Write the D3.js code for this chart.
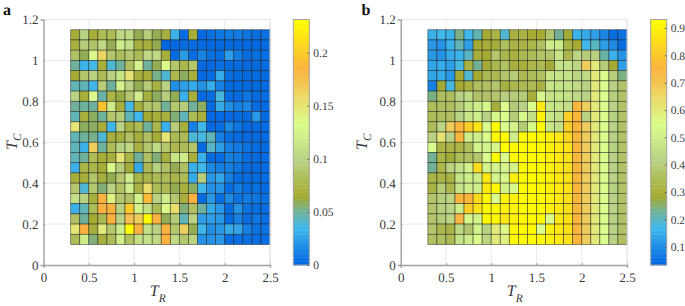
<!DOCTYPE html>
<html><head><meta charset="utf-8">
<script src="https://cdn.jsdelivr.net/npm/d3@7"></script>
<style>html,body{margin:0;padding:0;background:#fff}svg{display:block}text{font-family:"Liberation Serif",serif;text-rendering:geometricPrecision}</style>
</head><body><svg id="c" width="685" height="306"></svg>
<script>
const tR=[0.3,0.4,0.5,0.6,0.7,0.8,0.9,1.0,1.1,1.2,1.3,1.4,1.5,1.6,1.7,1.8,1.9,2.0,2.1,2.2,2.3,2.4];
const tC=[1.10,1.05,1.00,0.95,0.90,0.85,0.80,0.75,0.70,0.65,0.60,0.55,0.50,0.45,0.40,0.35,0.30,0.25,0.20,0.15,0.10];
const xTicks=[0,0.5,1,1.5,2,2.5];
const yTicks=[0,0.2,0.4,0.6,0.8,1,1.2];
const barTicksA=[0,0.05,0.1,0.15,0.2];
const barTicksB=[0.1,0.2,0.3,0.4,0.5,0.6,0.7,0.8,0.9];
const rangeA=[0,0.231];
const rangeB=[0.033,0.931];
const colorStops=[0,0.155,0.217,0.28,0.43,0.575,0.8,1];
const colorValues=["#0064e1","#41b9eb","#6fb29a","#a5aa30","#b9d283","#dcfd8c","#fbb23e","#ffff00"];
const valuesA=[
[.068,.10,.068,.08,.08,.105,.105,.06,.095,.06,.07,.033,.003,.068,.002,.005,.008,.01,.01,.008,.005,.005],
[.07,.095,.088,.105,.06,.12,.11,.07,.07,.06,.001,.002,.004,.004,.003,.003,.003,.003,.003,.003,.003,.003],
[.085,.06,.13,.16,.088,.082,.09,.08,.105,.105,.07,.003,.023,.004,.013,.005,.004,.024,.01,.004,.005,.004],
[.05,.033,.037,.07,.04,.05,.085,.125,.05,.06,.135,.09,.075,.09,.002,.002,.005,.003,.003,.003,.003,.003],
[.065,.09,.10,.08,.098,.115,.15,.07,.068,.052,.04,.078,.058,.07,.003,.003,.03,.005,.003,.003,.003,.003],
[.045,.045,.035,.095,.05,.125,.10,.06,.095,.072,.10,.018,.025,.03,.02,.03,.012,.003,.003,.003,.003,.003],
[.10,.07,.13,.048,.075,.062,.09,.12,.07,.058,.095,.06,.032,.07,.002,.004,.038,.003,.003,.008,.003,.004],
[.05,.05,.05,.195,.12,.07,.037,.07,.09,.088,.05,.09,.095,.05,.058,.003,.03,.018,.012,.015,.003,.003],
[.045,.07,.058,.05,.09,.095,.045,.035,.065,.07,.07,.055,.045,.08,.07,.002,.002,.002,.003,.003,.022,.003],
[.15,.058,.058,.07,.035,.10,.072,.08,.05,.078,.032,.095,.07,.012,.035,.002,.004,.015,.007,.003,.003,.003],
[.045,.05,.052,.04,.07,.07,.085,.07,.085,.068,.15,.08,.08,.04,.037,.045,.012,.004,.003,.003,.003,.003],
[.045,.033,.165,.05,.08,.10,.105,.072,.09,.105,.09,.078,.08,.088,.003,.042,.025,.012,.01,.006,.004,.003],
[.045,.05,.08,.068,.07,.15,.075,.05,.085,.055,.07,.115,.12,.07,.032,.003,.003,.012,.01,.004,.003,.003],
[.032,.075,.075,.068,.13,.095,.068,.03,.078,.10,.085,.06,.085,.032,.035,.016,.012,.012,.007,.003,.003,.003],
[.068,.07,.088,.07,.06,.09,.12,.075,.075,.08,.08,.075,.08,.03,.095,.022,.028,.012,.004,.004,.003,.003],
[.09,.04,.09,.055,.10,.085,.12,.072,.155,.08,.078,.06,.07,.058,.035,.02,.02,.004,.01,.004,.005,.003],
[.11,.10,.07,.185,.14,.09,.085,.125,.19,.10,.12,.09,.07,.185,.003,.022,.004,.016,.006,.01,.008,.005],
[.032,.045,.08,.185,.185,.10,.20,.125,.11,.08,.135,.155,.055,.085,.05,.03,.022,.003,.02,.006,.004,.004],
[.085,.05,.065,.078,.185,.10,.175,.165,.228,.185,.06,.095,.045,.10,.025,.025,.022,.003,.012,.004,.008,.004],
[.15,.185,.07,.145,.09,.12,.23,.185,.11,.10,.185,.09,.165,.06,.035,.018,.022,.03,.028,.012,.006,.006],
[.08,.12,.055,.07,.08,.12,.085,.11,.11,.105,.185,.105,.09,.10,.02,.02,.022,.003,.004,.005,.004,.004]
];
const valuesB=[
[.16,.17,.16,.24,.17,.21,.29,.32,.19,.31,.32,.29,.29,.38,.23,.28,.16,.15,.13,.09,.05,.06],
[.12,.11,.16,.21,.13,.29,.30,.30,.36,.32,.32,.33,.36,.50,.50,.32,.29,.17,.20,.13,.10,.05],
[.12,.11,.15,.16,.20,.30,.29,.38,.33,.31,.34,.35,.37,.38,.48,.33,.43,.40,.42,.22,.16,.11],
[.14,.15,.13,.18,.31,.23,.29,.33,.37,.30,.30,.33,.34,.29,.47,.47,.43,.68,.60,.40,.29,.13],
[.14,.15,.12,.29,.19,.29,.34,.34,.38,.40,.34,.35,.36,.48,.47,.47,.43,.44,.60,.55,.41,.24],
[.08,.28,.18,.29,.31,.36,.36,.38,.31,.33,.34,.34,.31,.48,.47,.47,.45,.42,.60,.55,.42,.37],
[.24,.36,.36,.42,.45,.37,.37,.38,.41,.40,.40,.30,.53,.47,.48,.47,.44,.42,.60,.55,.41,.37],
[.35,.36,.36,.40,.48,.50,.53,.30,.55,.40,.42,.55,.88,.48,.48,.46,.76,.68,.60,.55,.42,.37],
[.35,.36,.36,.42,.48,.50,.42,.53,.55,.40,.53,.46,.90,.48,.46,.82,.76,.42,.60,.55,.42,.37],
[.35,.43,.68,.76,.82,.87,.55,.93,.55,.52,.40,.54,.92,.48,.46,.82,.76,.68,.60,.55,.42,.37],
[.42,.62,.42,.76,.50,.50,.55,.92,.92,.50,.92,.92,.92,.90,.88,.84,.76,.68,.60,.55,.42,.37],
[.55,.32,.32,.32,.36,.52,.52,.53,.93,.92,.92,.92,.92,.90,.88,.86,.76,.68,.60,.55,.42,.37],
[.23,.32,.28,.35,.36,.38,.55,.93,.55,.92,.92,.92,.92,.90,.88,.86,.76,.68,.60,.55,.42,.37],
[.23,.33,.42,.47,.52,.85,.52,.52,.52,.52,.92,.92,.92,.90,.88,.86,.76,.68,.60,.55,.42,.37],
[.32,.32,.32,.47,.50,.50,.88,.52,.53,.90,.92,.92,.92,.90,.88,.86,.76,.68,.60,.55,.42,.37],
[.31,.40,.33,.47,.50,.50,.88,.92,.52,.54,.92,.92,.92,.90,.88,.86,.76,.68,.60,.55,.42,.37],
[.38,.41,.43,.76,.76,.85,.92,.55,.90,.90,.92,.92,.92,.90,.88,.86,.76,.68,.60,.55,.42,.37],
[.38,.41,.43,.50,.82,.86,.92,.92,.90,.90,.92,.92,.92,.90,.88,.86,.76,.68,.60,.55,.42,.37],
[.38,.40,.43,.74,.53,.52,.92,.92,.88,.90,.92,.92,.92,.55,.88,.86,.76,.68,.60,.55,.42,.37],
[.38,.33,.32,.44,.38,.52,.42,.60,.56,.92,.92,.92,.55,.90,.88,.86,.76,.68,.60,.55,.42,.37],
[.36,.36,.34,.47,.50,.55,.43,.60,.58,.92,.92,.92,.92,.90,.88,.86,.76,.68,.60,.55,.42,.36]
];
const panels=[
 {letter:"a",values:valuesA,range:rangeA,barTicks:barTicksA,x0:43.5,x1:270,bx:293.3,lx:3,ylx:17},
 {letter:"b",values:valuesB,range:rangeB,barTicks:barTicksB,x0:400.7,x1:627,bx:650.7,lx:361.5,ylx:367}
];
const svg=d3.select("#c");
const yTop=19.5,yBot=265,axisCol="#a0a0a0",textCol="#3a3a3a";
const cmap=d3.scaleLinear().domain(colorStops).range(colorValues).interpolate(d3.interpolateRgb).clamp(true);
panels.forEach(p=>{
  const g=svg.append("g");
  const x=d3.scaleLinear().domain([0,2.5]).range([p.x0,p.x1]);
  const y=d3.scaleLinear().domain([0,1.2]).range([yBot,yTop]);
  g.append("g").selectAll("line").data(xTicks.slice(1)).join("line")
    .attr("x1",d=>x(d)).attr("x2",d=>x(d)).attr("y1",yTop).attr("y2",yBot).attr("stroke","#ececec");
  g.append("g").selectAll("line").data(yTicks.slice(1)).join("line")
    .attr("x1",p.x0).attr("x2",p.x1).attr("y1",d=>y(d)).attr("y2",d=>y(d)).attr("stroke","#ececec");
  const color=v=>cmap((v-p.range[0])/(p.range[1]-p.range[0]));
  const cells=p.values.flatMap((row,r)=>row.map((v,c)=>({v,tr:tR[c],tc:tC[r]})));
  g.append("g").selectAll("rect").data(cells).join("rect")
    .attr("x",d=>x(d.tr)).attr("width",d=>x(d.tr+0.1)-x(d.tr))
    .attr("y",d=>y(d.tc+0.05)).attr("height",d=>y(d.tc)-y(d.tc+0.05))
    .attr("fill",d=>color(d.v)).attr("stroke","#1a1a1a").attr("stroke-opacity",0.62).attr("stroke-width",0.75);
  const ax=d3.axisBottom(x).tickValues(xTicks).tickFormat(d=>String(d)).tickSize(3).tickPadding(4);
  const ay=d3.axisLeft(y).tickValues(yTicks).tickFormat(d=>String(d)).tickSize(3).tickPadding(4);
  const gx=g.append("g").attr("transform",`translate(0,${yBot})`).call(ax);
  const gy=g.append("g").attr("transform",`translate(${p.x0},0)`).call(ay);
  [gx,gy].forEach(a=>{
    a.select(".domain").attr("stroke",axisCol).attr("stroke-width",1.4);
    a.selectAll(".tick line").attr("stroke",axisCol);
    a.selectAll("text").attr("fill",textCol).attr("font-size",13).attr("font-family","Liberation Serif");
  });
  gx.selectAll(".tick line").attr("y2",-2);
  gy.selectAll(".tick line").attr("x2",2);
  gx.selectAll("text").attr("dy","0.71em").attr("y",7.5);
  gy.selectAll("text").attr("x",-5);
  g.append("path").attr("d",`M${p.x0},${yTop}H${p.x1}V${yBot}`).attr("fill","none").attr("stroke","#e4e4e4");
  const tx=g.append("text").attr("x",(p.x0+p.x1)/2-7).attr("y",296).attr("fill",textCol)
    .attr("font-size",16).attr("font-style","italic");
  tx.append("tspan").text("T");
  tx.append("tspan").text("R").attr("font-size",11.5).attr("dy",5.5).attr("dx",0);
  const ty=g.append("text").attr("transform",`translate(${p.ylx},150) rotate(-90)`).attr("fill",textCol)
    .attr("font-size",16).attr("font-style","italic");
  ty.append("tspan").text("T");
  ty.append("tspan").text("C").attr("font-size",11.5).attr("dy",4).attr("dx",0);
  g.append("text").attr("x",p.lx).attr("y",14.5).attr("font-size",16).attr("font-weight","bold").attr("fill","#111").text(p.letter);
  const by=d3.scaleLinear().domain(p.range).range([yBot,yTop]);
  const steps=d3.range(64);
  const bw=16, sh=(yBot-yTop)/64;
  g.append("g").selectAll("rect").data(steps).join("rect")
    .attr("x",p.bx).attr("width",bw).attr("y",i=>yBot-(i+1)*sh).attr("height",sh+0.4)
    .attr("fill",i=>cmap((i+0.5)/64));
  g.append("rect").attr("x",p.bx).attr("y",yTop).attr("width",bw).attr("height",yBot-yTop)
    .attr("fill","none").attr("stroke",axisCol);
  const ab=d3.axisRight(by).tickValues(p.barTicks).tickFormat(d=>String(d)).tickSize(-2).tickPadding(5);
  const gb=g.append("g").attr("transform",`translate(${p.bx+bw},0)`).call(ab);
  gb.select(".domain").remove();
  gb.selectAll(".tick line").attr("stroke","#666");
  gb.selectAll("text").attr("fill",textCol).attr("font-size",11.5).attr("font-family","Liberation Serif").attr("x",4);
});
</script></body></html>
